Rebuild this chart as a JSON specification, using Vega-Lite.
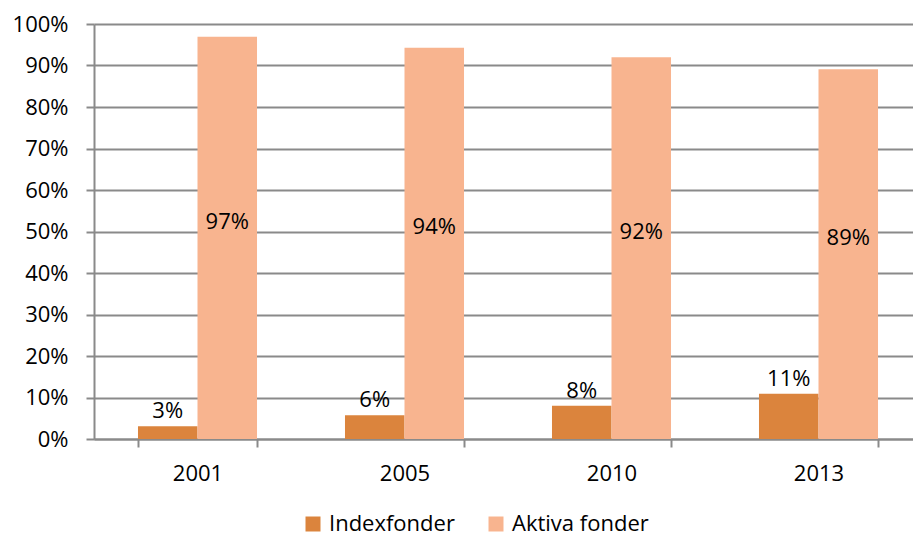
{
  "$schema": "https://vega.github.io/schema/vega-lite/v6.json",
  "autosize": {"type": "none"},
  "padding": {"left": 94, "top": 24, "right": 0, "bottom": 99},
  "width": 828,
  "height": 415,
  "background": "white",
  "config": {
    "font": "Open Sans",
    "view": {"stroke": null},
    "axis": {"labelFont": "Open Sans", "labelFontSize": 22, "labelColor": "#000000", "domainColor": "#8a8a8a", "tickColor": "#8a8a8a", "gridColor": "#8a8a8a", "domainWidth": 2, "tickWidth": 2, "gridWidth": 2}
  },
  "data": {
    "values": [
      {"year": "2001", "serie": "Indexfonder", "value": 0.031},
      {"year": "2001", "serie": "Aktiva fonder", "value": 0.969},
      {"year": "2005", "serie": "Indexfonder", "value": 0.057},
      {"year": "2005", "serie": "Aktiva fonder", "value": 0.943},
      {"year": "2010", "serie": "Indexfonder", "value": 0.08},
      {"year": "2010", "serie": "Aktiva fonder", "value": 0.92},
      {"year": "2013", "serie": "Indexfonder", "value": 0.109},
      {"year": "2013", "serie": "Aktiva fonder", "value": 0.891}
    ]
  },
  "encoding": {
    "x": {
      "field": "year", "type": "nominal", "sort": ["2001", "2005", "2010", "2013"],
      "scale": {"paddingInner": 0.425, "paddingOuter": 0.2125},
      "axis": {"title": null, "labelAngle": 0, "tickBand": "extent", "tickSize": 8, "labelPadding": 16, "grid": false}
    },
    "xOffset": {"field": "serie", "type": "nominal", "sort": ["Indexfonder", "Aktiva fonder"], "scale": {"paddingInner": 0, "paddingOuter": 0}}
  },
  "layer": [
    {
      "mark": {"type": "bar"},
      "encoding": {
        "y": {
          "field": "value", "type": "quantitative",
          "scale": {"domain": [0, 1], "nice": false},
          "axis": {"title": null, "format": ".0%", "values": [0, 0.1, 0.2, 0.3, 0.4, 0.5, 0.6, 0.7, 0.8, 0.9, 1], "tickSize": 8, "labelPadding": 18, "grid": true}
        },
        "color": {
          "field": "serie", "type": "nominal",
          "scale": {"domain": ["Indexfonder", "Aktiva fonder"], "range": ["#DB843D", "#F8B48F"]},
          "legend": {
            "title": null, "orient": "none", "direction": "horizontal", "legendX": 208, "legendY": 489,
            "symbolType": "square", "symbolSize": 225, "symbolStrokeWidth": 0, "symbolOpacity": 1,
            "labelFont": "Open Sans", "labelFontSize": 22, "labelColor": "#000000", "labelOffset": 5, "columnPadding": 30, "padding": 0
          }
        }
      }
    },
    {
      "transform": [{"filter": "datum.serie === 'Indexfonder'"}],
      "mark": {"type": "text", "fontSize": 22, "font": "Open Sans", "color": "#000000", "baseline": "middle", "align": "center", "dy": -15},
      "encoding": {
        "y": {"field": "value", "type": "quantitative"},
        "text": {"field": "value", "type": "quantitative", "format": ".0%"}
      }
    },
    {
      "transform": [
        {"filter": "datum.serie === 'Aktiva fonder'"},
        {"calculate": "datum.value / 2", "as": "mid"}
      ],
      "mark": {"type": "text", "fontSize": 22, "font": "Open Sans", "color": "#000000", "baseline": "middle", "align": "center", "dy": -16},
      "encoding": {
        "y": {"field": "mid", "type": "quantitative"},
        "text": {"field": "value", "type": "quantitative", "format": ".0%"}
      }
    }
  ]
}
